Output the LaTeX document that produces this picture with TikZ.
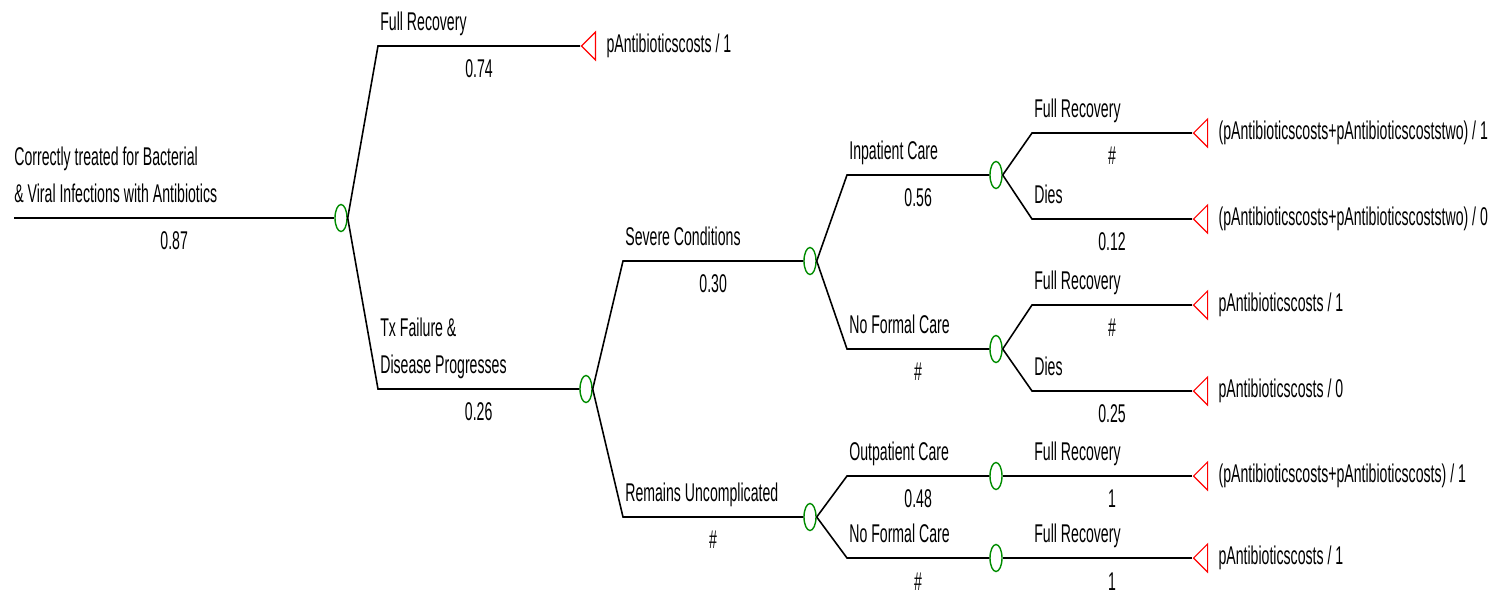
\documentclass[tikz,border=0pt]{standalone}
\usepackage{fontspec}
\setmainfont{Liberation Sans}[FakeStretch=0.55]
\usetikzlibrary{positioning}
\usetikzlibrary{shapes.geometric}
\tikzset{branch/.style = {draw, line width=0.9pt}}

\begin{document}
\begin{tikzpicture}[x=0.02cm, y=-0.02cm, font=\fontsize{14.6}{21}\selectfont,
    chance node/.style={ellipse,draw=green!55!black,line width=0.8pt,inner sep=0pt,minimum width=0.24cm,minimum height=0.54cm},
    end node/.style={isosceles triangle,shape border rotate=180,isosceles triangle stretches,draw=red,line width=0.7pt,inner sep=0pt,minimum width=0.56cm,minimum height=0.28cm},
    choice/.style={anchor=south west,align=left,inner sep=0pt,text depth=0pt,yshift=0.3cm,xshift=0.04cm},
    prob/.style={anchor=base,inner sep=0pt,yshift=-0.64cm},
    payoff/.style={anchor=west,inner sep=0pt,text height=0.36cm,text depth=0.1cm}]
\useasboundingbox (0,0) rectangle (1491,595);

% chance nodes
\node[chance node] (c1) at (341,218) {};
\node[chance node] (c2) at (586,389) {};
\node[chance node] (c3) at (810,261) {};
\node[chance node] (c4) at (996,175) {};
\node[chance node] (c5) at (996,349) {};
\node[chance node] (c6) at (810,517) {};
\node[chance node] (c7) at (996,476) {};
\node[chance node] (c8) at (996,558) {};

% terminal nodes
\node[end node,anchor=apex] (t1) at (580,46) {};
\node[end node,anchor=apex] (t2) at (1192,133) {};
\node[end node,anchor=apex] (t3) at (1192,219) {};
\node[end node,anchor=apex] (t4) at (1192,305) {};
\node[end node,anchor=apex] (t5) at (1192,391) {};
\node[end node,anchor=apex] (t6) at (1192,476) {};
\node[end node,anchor=apex] (t7) at (1192,558) {};

\node[payoff,right=0.2cm of t1] (v1) {pAntibioticscosts / 1};
\node[payoff,right=0.2cm of t2] (v2) {(pAntibioticscosts+pAntibioticscoststwo) / 1};
\node[payoff,right=0.2cm of t3] (v3) {(pAntibioticscosts+pAntibioticscoststwo) / 0};
\node[payoff,right=0.2cm of t4] (v4) {pAntibioticscosts / 1};
\node[payoff,right=0.2cm of t5] (v5) {pAntibioticscosts / 0};
\node[payoff,right=0.2cm of t6] (v6) {(pAntibioticscosts+pAntibioticscosts) / 1};
\node[payoff,right=0.2cm of t7] (v7) {pAntibioticscosts / 1};

% bends
\coordinate (r0) at (14,218);
\coordinate (b1) at (378,46);
\coordinate (b2) at (378,389);
\coordinate (b3) at (623,261);
\coordinate (b4) at (623,517);
\coordinate (b5) at (847,175);
\coordinate (b6) at (847,349);
\coordinate (b7) at (1032,133);
\coordinate (b8) at (1032,219);
\coordinate (b9) at (1032,305);
\coordinate (b10) at (1032,391);
\coordinate (b11) at (847,476);
\coordinate (b12) at (847,558);
\coordinate (b13) at (1032,476);
\coordinate (b14) at (1032,558);

% branches
\draw[branch] (r0) -- node[prob] (p0) {0.87} (c1.west);
\draw[branch] (c1.east) -- (b1) -- node[prob] (p1) {0.74} (t1.apex);
\draw[branch] (c1.east) -- (b2) -- node[prob] (p2) {0.26} (c2.west);
\draw[branch] (c2.east) -- (b3) -- node[prob] (p3) {0.30} (c3.west);
\draw[branch] (c2.east) -- (b4) -- node[prob] (p4) {\#} (c6.west);
\draw[branch] (c3.east) -- (b5) -- node[prob] (p5) {0.56} (c4.west);
\draw[branch] (c3.east) -- (b6) -- node[prob] (p6) {\#} (c5.west);
\draw[branch] (c4.east) -- (b7) -- node[prob] (p7) {\#} (t2.apex);
\draw[branch] (c4.east) -- (b8) -- node[prob] (p8) {0.12} (t3.apex);
\draw[branch] (c5.east) -- (b9) -- node[prob] (p9) {\#} (t4.apex);
\draw[branch] (c5.east) -- (b10) -- node[prob] (p10) {0.25} (t5.apex);
\draw[branch] (c6.east) -- (b11) -- node[prob] (p11) {0.48} (c7.west);
\draw[branch] (c6.east) -- (b12) -- node[prob] (p12) {\#} (c8.west);
\draw[branch] (c7.east) -- (b13) -- node[prob] (p13) {1} (t6.apex);
\draw[branch] (c8.east) -- (b14) -- node[prob] (p14) {1} (t7.apex);

% branch names
\node[choice,xshift=-0.04cm] (l0) at (r0) {Correctly treated for Bacterial\\\& Viral Infections with Antibiotics};
\node[choice] (l1) at (b1) {Full Recovery};
\node[choice] (l2) at (b2) {Tx Failure \&\\Disease Progresses};
\node[choice] (l3) at (b3) {Severe Conditions};
\node[choice] (l4) at (b4) {Remains Uncomplicated};
\node[choice] (l5) at (b5) {Inpatient Care};
\node[choice] (l6) at (b6) {No Formal Care};
\node[choice] (l7) at (b7) {Full Recovery};
\node[choice] (l8) at (b8) {Dies};
\node[choice] (l9) at (b9) {Full Recovery};
\node[choice] (l10) at (b10) {Dies};
\node[choice] (l11) at (b11) {Outpatient Care};
\node[choice] (l12) at (b12) {No Formal Care};
\node[choice] (l13) at (b13) {Full Recovery};
\node[choice] (l14) at (b14) {Full Recovery};
\end{tikzpicture}
\end{document}
